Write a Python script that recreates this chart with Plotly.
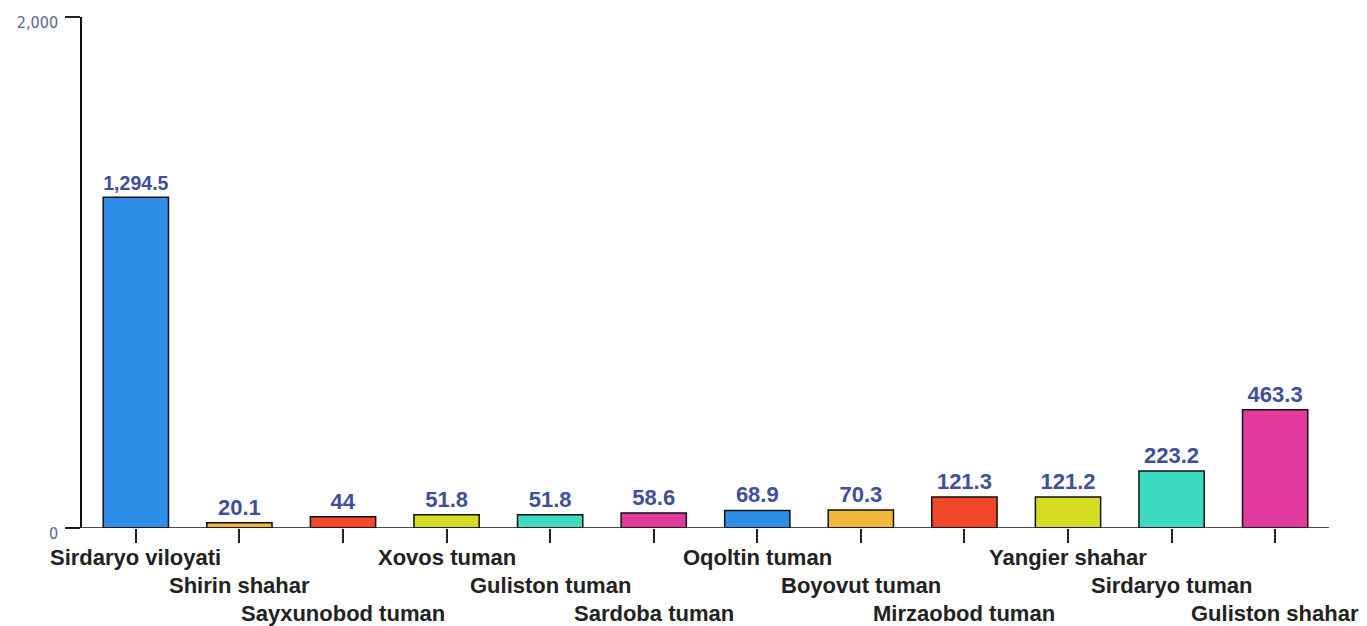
import plotly.graph_objects as go

categories = ["Sirdaryo viloyati", "Shirin shahar", "Sayxunobod tuman", "Xovos tuman",
              "Guliston tuman", "Sardoba tuman", "Oqoltin tuman", "Boyovut tuman",
              "Mirzaobod tuman", "Yangier shahar", "Sirdaryo tuman", "Guliston shahar"]
values = [1294.5, 20.1, 44, 51.8, 51.8, 58.6, 68.9, 70.3, 121.3, 121.2, 223.2, 463.3]
value_labels = ["1,294.5", "20.1", "44", "51.8", "51.8", "58.6", "68.9", "70.3",
                "121.3", "121.2", "223.2", "463.3"]
palette = ["#2f8fe8", "#f2b73a", "#f2482a", "#d6dc22", "#3ddbc2", "#e23a9c"]
colors = [palette[i % len(palette)] for i in range(len(categories))]

fig = go.Figure()
fig.add_trace(go.Bar(
    x=list(range(len(categories))), y=values,
    marker=dict(color=colors, line=dict(color="#111111", width=1.5)),
    width=0.63,
    text=value_labels, textposition="outside", cliponaxis=False,
    textfont=dict(family="Liberation Sans, Arial", size=22, color="#3f4f9e", weight="bold"),
    hoverinfo="x+y",
))

for i, c in enumerate(categories):
    fig.add_annotation(
        x=i, y=0, xref="x", yref="y", text=f"<b>{c}</b>", showarrow=False,
        yanchor="top", yshift=-15 - 28 * (i % 3),
        font=dict(family="Liberation Sans, Arial", size=22, color="#222222"),
    )

fig.update_layout(
    width=1359, height=618,
    margin=dict(l=74, r=38, t=9, b=98, autoexpand=False),
    paper_bgcolor="white", plot_bgcolor="white",
    showlegend=False,
    xaxis=dict(range=[-0.52, 11.52], showticklabels=False, ticks="outside", ticklen=14,
               tickcolor="#222222", tickwidth=1.5, tickvals=list(range(len(categories))),
               showgrid=False, zeroline=False, showline=False, fixedrange=True,
               automargin=False),
    yaxis=dict(range=[0, 2000], tickvals=[0, 2000], ticktext=["0", "2,000"],
               ticks="outside", ticklen=15, tickcolor="#222222", tickwidth=1.5,
               showline=True, linecolor="#111111", linewidth=1.5, showgrid=False,
               zeroline=False, ticklabeloverflow="allow", ticklabelstandoff=4,
               ticklabelshift=5, automargin=False,
               tickfont=dict(family="DejaVu Sans Condensed, Liberation Sans Narrow", size=16,
                             color="#5a6690")),
)
# x baseline extending to the left like the reference
fig.add_shape(type="line", xref="paper", yref="y", x0=-0.012, x1=1.0, y0=0, y1=0,
              line=dict(color="#111111", width=1.5))

fig.write_html("out.html")
